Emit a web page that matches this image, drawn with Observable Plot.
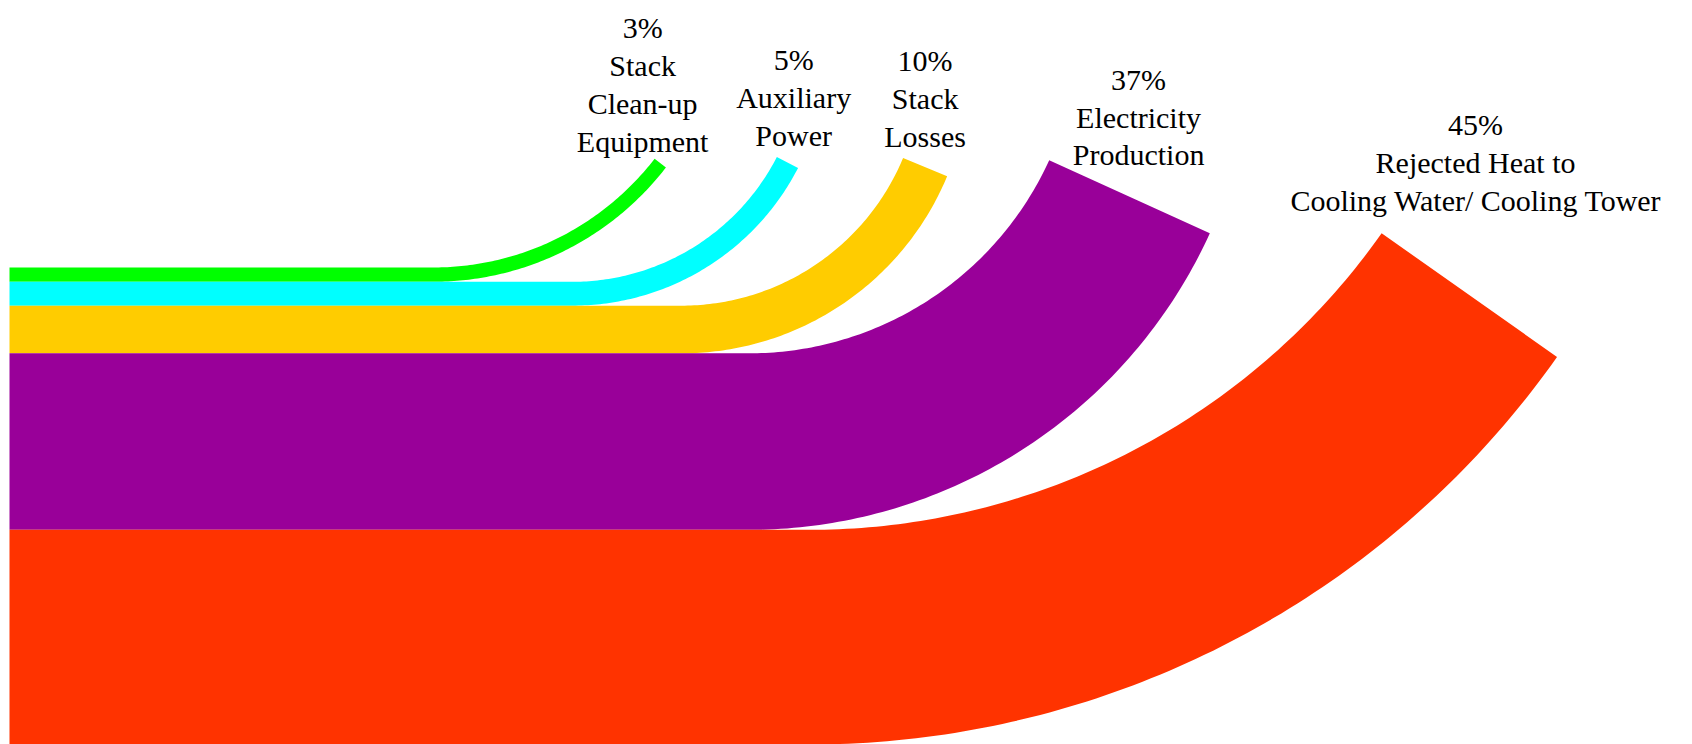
<!DOCTYPE html>
<html>
<head>
<meta charset="utf-8">
<script src="https://cdn.jsdelivr.net/npm/d3@7"></script>
<script src="https://cdn.jsdelivr.net/npm/@observablehq/plot@0.6"></script>
<style>
  html, body { margin: 0; padding: 0; background: #fff; }
  #chart svg { display: block; }
</style>
</head>
<body>
<div id="chart"></div>
<script>
// ---- data ----
const categories = [
  "Stack Clean-up Equipment",
  "Auxiliary Power",
  "Stack Losses",
  "Electricity Production",
  "Rejected Heat to Cooling Water/ Cooling Tower"
];
const percents = [3, 5, 10, 37, 45];
const labelLines = [
  ["Stack", "Clean-up", "Equipment"],
  ["Auxiliary", "Power"],
  ["Stack", "Losses"],
  ["Electricity", "Production"],
  ["Rejected Heat to", "Cooling Water/ Cooling Tower"]
];

// ---- styling / layout ----
const palette = ["#00ff00", "#00ffff", "#ffcc00", "#990099", "#ff3300"];
// geometry in percentage-point units: where each band starts turning,
// its inner turning radius, end angle (deg), and label offsets
const turnX = [88.8, 118.0, 140.9, 155.0, 167.7];
const turnRadius = [58.7, 48.2, 50.3, 69.2, 146.8];
const endAngle = [52.3, 62.8, 67.4, 65.5, 54.8];
const labelDx = [-3.7, 1.3, 0, 1.9, 1.3];
const labelLift = [3.5, 4.4, 4.4, 0.9, 6.7];

const W = 1692, H = 744;
const unit = 4.77;      // px per percentage point
const leftPad = 9;      // px offset of the stack's left edge
const fontPx = 30, linePx = 37.8;

// ---- build band outlines (in data units) ----
const bandPts = [];
const labels = [];
let stackTop = d3.sum(percents);
categories.forEach((cat, i) => {
  const w = percents[i];
  const yTop = stackTop, yBot = stackTop - w;
  stackTop = yBot;
  const cx = turnX[i], rIn = turnRadius[i], rOut = rIn + w;
  const cy = yTop + rIn;
  const a = endAngle[i] * Math.PI / 180;
  const N = 90;
  bandPts.push({cat, x: 0, y: yTop});
  for (let k = 0; k <= N; k++) {
    const t = a * k / N;
    bandPts.push({cat, x: cx + rIn * Math.sin(t), y: cy - rIn * Math.cos(t)});
  }
  for (let k = N; k >= 0; k--) {
    const t = a * k / N;
    bandPts.push({cat, x: cx + rOut * Math.sin(t), y: cy - rOut * Math.cos(t)});
  }
  bandPts.push({cat, x: 0, y: yBot});
  const lx = cx + (rIn + w / 2) * Math.sin(a) + labelDx[i];
  const ly = cy - rIn * Math.cos(a) + labelLift[i];
  const lines = [`${percents[i]}%`, ...labelLines[i]];
  lines.forEach((t, j) => {
    labels.push({x: lx, y: ly + (lines.length - 1 - j) * linePx / unit, text: t});
  });
});

const chart = Plot.plot({
  width: W,
  height: H,
  margin: 0,
  x: {domain: [-leftPad / unit, (W - leftPad) / unit], axis: null},
  y: {domain: [0, H / unit], axis: null},
  color: {domain: categories, range: palette},
  marks: [
    Plot.line(bandPts, {x: "x", y: "y", z: "cat", fill: "cat", stroke: "none", curve: "linear"}),
    Plot.text(labels, {
      x: "x", y: "y", text: "text",
      textAnchor: "middle",
      fontSize: fontPx,
      fontFamily: "Liberation Serif"
    })
  ]
});
document.getElementById("chart").appendChild(chart);
</script>
</body>
</html>
